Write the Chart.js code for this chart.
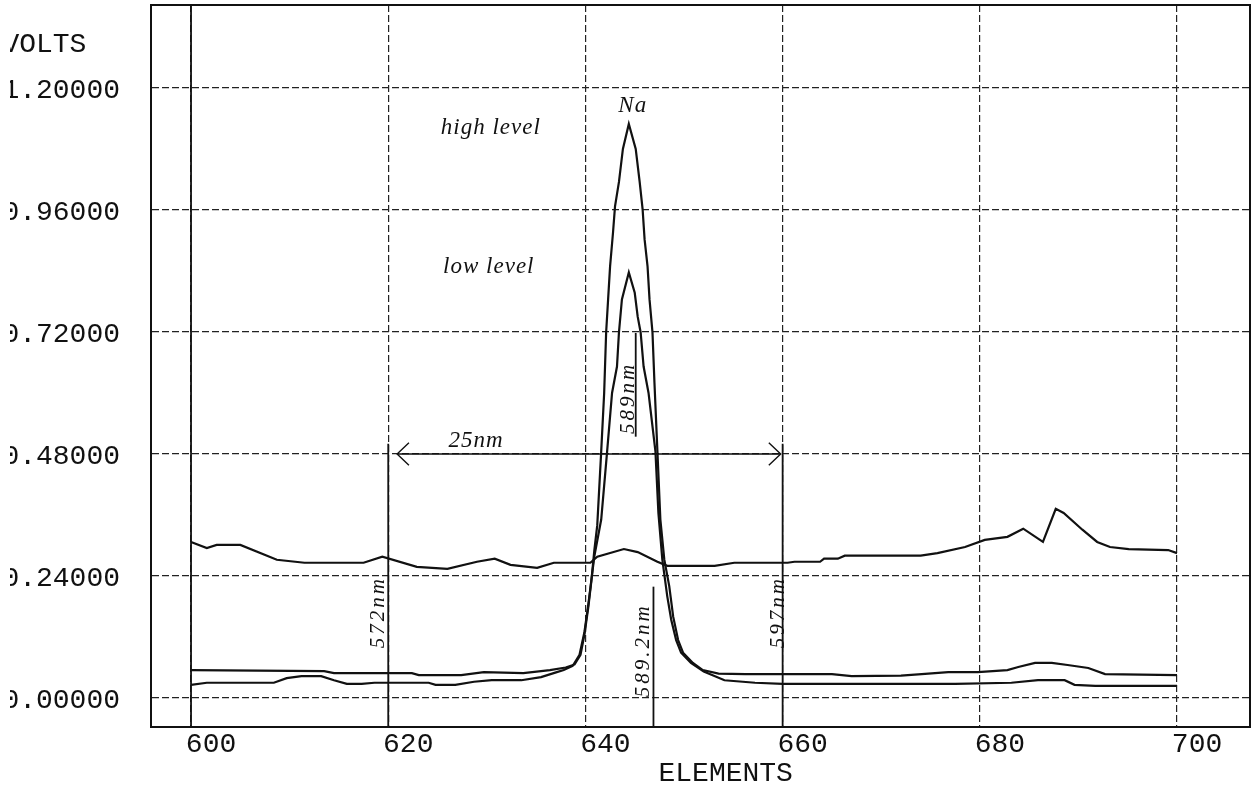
<!DOCTYPE html>
<html>
<head>
<meta charset="utf-8">
<script src="https://cdn.jsdelivr.net/npm/chart.js@4.4.1/dist/chart.umd.min.js"></script>
<style>
  html, body { margin: 0; padding: 0; background: #fff; }
  #wrap { position: relative; width: 1254px; height: 790px; overflow: hidden; }
  /* the scan cuts off the first character of every volt label */
  #scanEdge { position: absolute; left: 0; top: 0; width: 10px; height: 100%; background: #fff; }
</style>
</head>
<body>
<div id="wrap">
  <canvas id="spectrum" width="1254" height="790"></canvas>
  <div id="scanEdge"></div>
</div>
<script>
// ---------- axis ranges and ticks ----------
const X_MIN = 595.94, X_MAX = 707.4;
const Y_MIN = -0.057, Y_MAX = 1.363;
const xTicks = [600, 620, 640, 660, 680, 700];
const yTicks = [0, 0.24, 0.48, 0.72, 0.96, 1.2];

// ---------- traces (element, volts) ----------
const highX = [600.0, 613.5, 614.5, 622.4, 623.1, 627.4, 629.7, 633.7, 636.4, 638.0, 638.9, 639.5, 639.9,
  640.3, 640.6, 640.9, 641.2, 641.6, 641.9, 642.1, 642.3, 642.5, 642.8, 643.0, 643.4, 643.8, 644.4,
  645.1, 645.5, 645.8, 646.0, 646.3, 646.5, 646.8, 647.0, 647.3, 647.6, 648.0, 648.5, 648.9, 649.4,
  649.9, 650.9, 651.9, 653.5, 656.2, 665.0, 667.0, 672.0, 674.1, 676.8, 679.8, 682.8, 683.9, 685.6,
  687.3, 688.9, 691.0, 692.7, 700.0];
const highY = [0.055, 0.053, 0.049, 0.049, 0.045, 0.045, 0.051, 0.049, 0.055, 0.060, 0.066, 0.085, 0.125,
  0.180, 0.230, 0.290, 0.340, 0.485, 0.600, 0.719, 0.784, 0.849, 0.916, 0.967, 1.015, 1.080, 1.129,
  1.080, 1.015, 0.961, 0.902, 0.849, 0.784, 0.719, 0.620, 0.485, 0.351, 0.272, 0.220, 0.160, 0.114,
  0.089, 0.069, 0.055, 0.048, 0.047, 0.047, 0.043, 0.044, 0.047, 0.051, 0.051, 0.055, 0.061, 0.069,
  0.069, 0.065, 0.059, 0.047, 0.045];

const lowX = [600.0, 601.6, 608.4, 609.7, 611.2, 613.2, 614.5, 615.8, 617.3, 618.6, 624.1, 624.8, 626.8,
  628.7, 630.5, 633.5, 635.5, 637.1, 637.8, 638.7, 639.4, 639.9, 640.3, 640.9, 641.6, 642.2, 642.7,
  643.2, 643.4, 643.7, 644.4, 645.0, 645.3, 645.6, 645.9, 646.4, 647.1, 647.4, 647.8, 648.3, 648.7,
  649.2, 649.7, 650.7, 652.0, 654.1, 657.2, 660.0, 677.5, 683.2, 685.9, 688.6, 689.6, 691.7, 700.0];
const lowY = [0.026, 0.030, 0.030, 0.039, 0.043, 0.043, 0.035, 0.028, 0.028, 0.030, 0.030, 0.026, 0.026,
  0.032, 0.035, 0.035, 0.041, 0.051, 0.055, 0.063, 0.085, 0.130, 0.185, 0.278, 0.351, 0.485, 0.600,
  0.652, 0.719, 0.784, 0.837, 0.797, 0.750, 0.719, 0.652, 0.600, 0.485, 0.364, 0.272, 0.200, 0.154,
  0.114, 0.089, 0.069, 0.052, 0.035, 0.030, 0.028, 0.028, 0.030, 0.035, 0.035, 0.026, 0.024, 0.024];

const upperX = [600.0, 601.6, 602.6, 605.0, 608.7, 611.5, 617.5, 619.4, 622.9, 626.0, 629.0, 630.8, 632.4,
  635.1, 636.8, 640.5, 641.2, 643.9, 645.3, 647.3, 648.3, 653.1, 655.1, 660.5, 661.2, 663.8, 664.2,
  665.6, 666.3, 674.0, 675.7, 678.5, 680.5, 682.8, 684.4, 686.4, 687.7, 688.5, 690.4, 691.9, 693.2,
  695.1, 699.1, 700.0];
const upperY = [0.307, 0.295, 0.301, 0.301, 0.272, 0.266, 0.266, 0.278, 0.258, 0.254, 0.268, 0.274, 0.262,
  0.256, 0.266, 0.266, 0.278, 0.293, 0.287, 0.268, 0.260, 0.260, 0.266, 0.266, 0.268, 0.268, 0.274,
  0.274, 0.280, 0.280, 0.285, 0.297, 0.311, 0.317, 0.333, 0.307, 0.372, 0.364, 0.331, 0.307, 0.297,
  0.293, 0.291, 0.285];

// ---------- hand-drawn markers ----------
const markerX      = [600, 620, 660, 645.1, 646.9];
const markerTop    = [Y_MAX, 0.50, 0.50, 0.718, 0.219];
const markerBottom = [Y_MIN, Y_MIN, Y_MIN, 0.514, Y_MIN];

const spanX = [620.9, 659.8];   // the 25 nm double arrow
const spanY = 0.48;
const headLen = 1.2, headHalf = 0.022;

const noteText   = ['high level', 'low level', 'Na', '25nm', '572nm', '597nm', '589nm', '589.2nm'];
const noteX      = [630.4, 630.2, 644.8, 628.9, 619.0, 659.6, 644.4, 645.9];
const noteY      = [1.121, 0.848, 1.165, 0.505, 0.169, 0.169, 0.590, 0.094];
const noteTurned = [false, false, false, false, true, true, true, true];

// ---------- datasets ----------
const toPoints = (xs, ys) => xs.map((v, i) => ({ x: v, y: ys[i] }));
const ink = '#111';
const trace = (pts, w) => ({ data: pts, borderColor: ink, borderWidth: w, pointRadius: 0, tension: 0, fill: false });

const datasets = [
  trace(toPoints(highX, highY), 2.2),
  trace(toPoints(lowX, lowY), 2.2),
  trace(toPoints(upperX, upperY), 2.2)
];
markerX.forEach((m, i) => {
  datasets.push(trace([{ x: m, y: markerBottom[i] }, { x: m, y: markerTop[i] }], 1.8));
});
datasets.push(trace([{ x: spanX[0], y: spanY }, { x: spanX[1], y: spanY }], 1.4));
datasets.push(trace([
  { x: spanX[0] + headLen, y: spanY + headHalf }, { x: spanX[0], y: spanY }, { x: spanX[0] + headLen, y: spanY - headHalf }
], 1.4));
datasets.push(trace([
  { x: spanX[1] - headLen, y: spanY + headHalf }, { x: spanX[1], y: spanY }, { x: spanX[1] - headLen, y: spanY - headHalf }
], 1.4));

// ---------- text plugin: handwritten notes and the VOLTS header ----------
const plotterFont = { family: "'Liberation Mono', 'DejaVu Sans Mono', monospace", size: 28 };

const notesPlugin = {
  id: 'notes',
  afterDatasetsDraw(chart) {
    const { ctx, scales: { x, y } } = chart;
    ctx.save();
    ctx.fillStyle = ink;
    ctx.textAlign = 'center';
    ctx.textBaseline = 'middle';
    noteText.forEach((t, i) => {
      ctx.save();
      ctx.translate(x.getPixelForValue(noteX[i]), y.getPixelForValue(noteY[i]));
      if (noteTurned[i]) {
        ctx.rotate(-Math.PI / 2);
        ctx.font = "italic 21px 'Liberation Serif', serif";
        ctx.letterSpacing = '3px';
      } else {
        ctx.font = "italic 23px 'Liberation Serif', serif";
        ctx.letterSpacing = '1px';
      }
      ctx.fillText(t, 0, 0);
      ctx.restore();
    });

    // unit header, left-aligned with the tick labels
    ctx.font = plotterFont.size + 'px ' + plotterFont.family;
    const labelRight = y.right - y.options.ticks.padding;
    const left = labelRight - ctx.measureText('0.00000').width;
    ctx.textAlign = 'left';
    ctx.fillText('VOLTS', left, chart.chartArea.top + 40);
    ctx.restore();
  }
};

// ---------- chart ----------
const gridStyle = { color: '#222', lineWidth: 1.2, drawTicks: false };
const frame = { display: true, color: ink, width: 2, dash: [7, 3] };
// keep Chart.js from reserving room for labels that never reach the edges
const noEdgePadding = s => { s.paddingTop = 0; s.paddingBottom = 0; s.paddingLeft = 0; s.paddingRight = 0; };

new Chart(document.getElementById('spectrum'), {
  type: 'line',
  data: { datasets: datasets },
  options: {
    responsive: false,
    animation: false,
    layout: { padding: { top: 5, right: 4, left: 0, bottom: 0 } },
    plugins: { legend: { display: false }, tooltip: { enabled: false } },
    scales: {
      x: {
        type: 'linear', min: X_MIN, max: X_MAX,
        afterBuildTicks: s => { s.ticks = xTicks.map(v => ({ value: v })); },
        afterFit: s => { s.height = 63; noEdgePadding(s); },
        grid: gridStyle,
        border: frame,
        ticks: { font: plotterFont, color: ink, padding: 1, labelOffset: 20, maxRotation: 0, autoSkip: false },
        title: { display: true, text: '   ELEMENTS', font: plotterFont, color: ink, padding: { top: 0, bottom: 0 } }
      },
      y: {
        type: 'linear', min: Y_MIN, max: Y_MAX,
        afterBuildTicks: s => { s.ticks = yTicks.map(v => ({ value: v })); },
        afterFit: s => { s.width = 151; noEdgePadding(s); },
        grid: gridStyle,
        border: frame,
        ticks: { font: plotterFont, color: ink, padding: 31, labelOffset: 3, callback: v => v.toFixed(5) }
      },
      xTop: {
        type: 'linear', position: 'top', min: X_MIN, max: X_MAX,
        afterFit: s => { s.height = 0; noEdgePadding(s); },
        grid: { display: false, drawTicks: false }, ticks: { display: false },
        border: { display: true, color: ink, width: 2 }
      },
      yRight: {
        type: 'linear', position: 'right', min: Y_MIN, max: Y_MAX,
        afterFit: s => { s.width = 0; noEdgePadding(s); },
        grid: { display: false, drawTicks: false }, ticks: { display: false },
        border: { display: true, color: ink, width: 2 }
      }
    }
  },
  plugins: [notesPlugin]
});
</script>
</body>
</html>
